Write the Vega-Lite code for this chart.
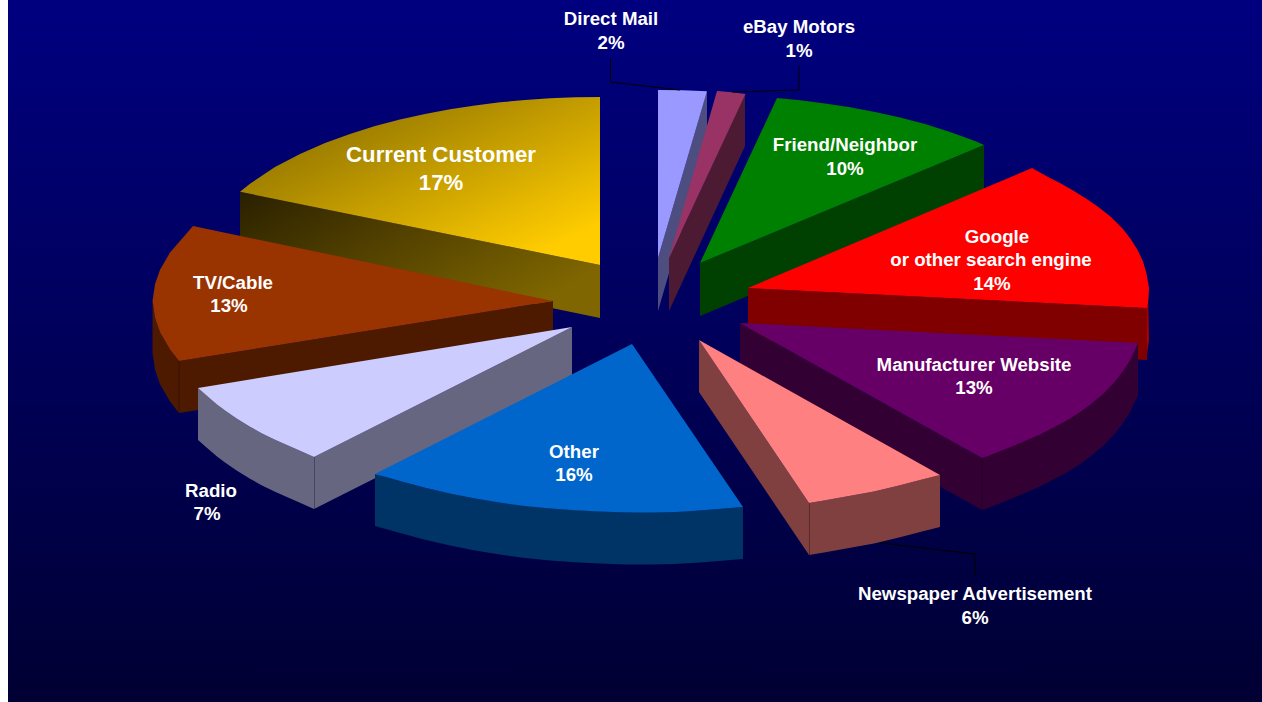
{"$schema":"https://vega.github.io/schema/vega-lite/v6.json","width":1262,"height":702,"padding":0,"autosize":{"type":"fit","contains":"padding"},"background":"white","view":{"stroke":null},
"datasets":{
"bg":[{"x":8,"x2":1262,"y":0,"y2":702}],
"gold":[
{"face":"top","seq":0,"x":600,"y":265},{"face":"top","seq":1,"x":600,"y":97},{"face":"top","seq":2,"x":575,"y":97.3},{"face":"top","seq":3,"x":550,"y":98.3},{"face":"top","seq":4,"x":525,"y":100},{"face":"top","seq":5,"x":500,"y":102.3},{"face":"top","seq":6,"x":475,"y":105.4},{"face":"top","seq":7,"x":450,"y":109.3},{"face":"top","seq":8,"x":425,"y":113.9},{"face":"top","seq":9,"x":400,"y":119.5},{"face":"top","seq":10,"x":375,"y":126.1},{"face":"top","seq":11,"x":350,"y":133.9},{"face":"top","seq":12,"x":325,"y":143},{"face":"top","seq":13,"x":300,"y":153.9},{"face":"top","seq":14,"x":275,"y":167.1},{"face":"top","seq":15,"x":250,"y":183.7},{"face":"top","seq":16,"x":240,"y":191.8},
{"face":"side","seq":0,"x":240,"y":192},{"face":"side","seq":1,"x":600,"y":265},{"face":"side","seq":2,"x":600,"y":318},{"face":"side","seq":3,"x":240,"y":244}],
"faces":[
{"face":"Direct Mail side","seq":0,"x":707,"y":91},{"face":"Direct Mail side","seq":1,"x":707,"y":143},{"face":"Direct Mail side","seq":2,"x":658,"y":311},{"face":"Direct Mail side","seq":3,"x":658,"y":258},
{"face":"Direct Mail top","seq":0,"x":658,"y":258},{"face":"Direct Mail top","seq":1,"x":658,"y":90},{"face":"Direct Mail top","seq":2,"x":683,"y":90.3},{"face":"Direct Mail top","seq":3,"x":707,"y":91.3},
{"face":"eBay side","seq":0,"x":745,"y":94},{"face":"eBay side","seq":1,"x":745,"y":146},{"face":"eBay side","seq":2,"x":669,"y":311},{"face":"eBay side","seq":3,"x":669,"y":258},
{"face":"eBay top","seq":0,"x":669,"y":258},{"face":"eBay top","seq":1,"x":717,"y":91},{"face":"eBay top","seq":2,"x":732,"y":92.3},{"face":"eBay top","seq":3,"x":745.5,"y":94},
{"face":"Friend side","seq":0,"x":700,"y":263},{"face":"Friend side","seq":1,"x":984,"y":145},{"face":"Friend side","seq":2,"x":984,"y":197},{"face":"Friend side","seq":3,"x":700,"y":316},
{"face":"Friend top","seq":0,"x":700,"y":263},{"face":"Friend top","seq":1,"x":777,"y":98},{"face":"Friend top","seq":2,"x":800,"y":100.3},{"face":"Friend top","seq":3,"x":825,"y":103.4},{"face":"Friend top","seq":4,"x":850,"y":107.3},{"face":"Friend top","seq":5,"x":875,"y":111.9},{"face":"Friend top","seq":6,"x":900,"y":117.5},{"face":"Friend top","seq":7,"x":925,"y":124.1},{"face":"Friend top","seq":8,"x":950,"y":131.9},{"face":"Friend top","seq":9,"x":975,"y":141},{"face":"Friend top","seq":10,"x":984,"y":145},
{"face":"Google outer","seq":0,"x":1146,"y":308},{"face":"Google outer","seq":1,"x":1148,"y":290},{"face":"Google outer","seq":2,"x":1149,"y":340},{"face":"Google outer","seq":3,"x":1146,"y":361},
{"face":"Google side","seq":0,"x":748,"y":288},{"face":"Google side","seq":1,"x":1147,"y":308},{"face":"Google side","seq":2,"x":1147,"y":360},{"face":"Google side","seq":3,"x":748,"y":340},
{"face":"Google top","seq":0,"x":748,"y":288},{"face":"Google top","seq":1,"x":1032,"y":168},{"face":"Google top","seq":2,"x":1048,"y":176.9},{"face":"Google top","seq":3,"x":1060,"y":183},{"face":"Google top","seq":4,"x":1073,"y":190.6},{"face":"Google top","seq":5,"x":1086,"y":198.5},{"face":"Google top","seq":6,"x":1098,"y":206.7},{"face":"Google top","seq":7,"x":1111,"y":217},{"face":"Google top","seq":8,"x":1123,"y":229},{"face":"Google top","seq":9,"x":1131,"y":239.6},{"face":"Google top","seq":10,"x":1138,"y":250.7},{"face":"Google top","seq":11,"x":1143,"y":261.5},{"face":"Google top","seq":12,"x":1146.5,"y":273.5},{"face":"Google top","seq":13,"x":1149,"y":288},{"face":"Google top","seq":14,"x":1148.5,"y":298},{"face":"Google top","seq":15,"x":1147,"y":308},
{"face":"TV side","seq":0,"x":179,"y":361},{"face":"TV side","seq":1,"x":553,"y":301},{"face":"TV side","seq":2,"x":553,"y":353},{"face":"TV side","seq":3,"x":179,"y":413},{"face":"TV side","seq":4,"x":170,"y":401.4},{"face":"TV side","seq":5,"x":160,"y":384.3},{"face":"TV side","seq":6,"x":155,"y":369.8},{"face":"TV side","seq":7,"x":152.5,"y":353},{"face":"TV side","seq":8,"x":152.5,"y":301},{"face":"TV side","seq":9,"x":155,"y":317.8},{"face":"TV side","seq":10,"x":160,"y":332.3},{"face":"TV side","seq":11,"x":170,"y":349.4},
{"face":"TV top","seq":0,"x":553,"y":301},{"face":"TV top","seq":1,"x":193,"y":226},{"face":"TV top","seq":2,"x":185,"y":235.2},{"face":"TV top","seq":3,"x":170,"y":252.6},{"face":"TV top","seq":4,"x":160,"y":269.7},{"face":"TV top","seq":5,"x":155,"y":284.2},{"face":"TV top","seq":6,"x":152.5,"y":301},{"face":"TV top","seq":7,"x":155,"y":317.8},{"face":"TV top","seq":8,"x":160,"y":332.3},{"face":"TV top","seq":9,"x":170,"y":349.4},{"face":"TV top","seq":10,"x":179,"y":361},
{"face":"Radio side","seq":0,"x":198,"y":388},{"face":"Radio side","seq":1,"x":210,"y":398.4},{"face":"Radio side","seq":2,"x":217,"y":404.4},{"face":"Radio side","seq":3,"x":225,"y":410.6},{"face":"Radio side","seq":4,"x":237,"y":418.8},{"face":"Radio side","seq":5,"x":250,"y":426.7},{"face":"Radio side","seq":6,"x":262,"y":433.4},{"face":"Radio side","seq":7,"x":275,"y":439.7},{"face":"Radio side","seq":8,"x":288,"y":445.6},{"face":"Radio side","seq":9,"x":300,"y":450.8},{"face":"Radio side","seq":10,"x":314,"y":457},{"face":"Radio side","seq":11,"x":572,"y":327},{"face":"Radio side","seq":12,"x":572,"y":379},{"face":"Radio side","seq":13,"x":314,"y":509},{"face":"Radio side","seq":14,"x":300,"y":502.8},{"face":"Radio side","seq":15,"x":288,"y":497.6},{"face":"Radio side","seq":16,"x":275,"y":491.7},{"face":"Radio side","seq":17,"x":262,"y":485.4},{"face":"Radio side","seq":18,"x":250,"y":478.7},{"face":"Radio side","seq":19,"x":237,"y":470.8},{"face":"Radio side","seq":20,"x":225,"y":462.6},{"face":"Radio side","seq":21,"x":217,"y":456.4},{"face":"Radio side","seq":22,"x":210,"y":450.4},{"face":"Radio side","seq":23,"x":198,"y":440},
{"face":"Radio top","seq":0,"x":572,"y":327},{"face":"Radio top","seq":1,"x":314,"y":457},{"face":"Radio top","seq":2,"x":300,"y":450.8},{"face":"Radio top","seq":3,"x":288,"y":445.6},{"face":"Radio top","seq":4,"x":275,"y":439.7},{"face":"Radio top","seq":5,"x":262,"y":433.4},{"face":"Radio top","seq":6,"x":250,"y":426.7},{"face":"Radio top","seq":7,"x":237,"y":418.8},{"face":"Radio top","seq":8,"x":225,"y":410.6},{"face":"Radio top","seq":9,"x":217,"y":404.4},{"face":"Radio top","seq":10,"x":210,"y":398.4},{"face":"Radio top","seq":11,"x":198,"y":388},
{"face":"Manufacturer side","seq":0,"x":740,"y":323},{"face":"Manufacturer side","seq":1,"x":982,"y":458},{"face":"Manufacturer side","seq":2,"x":1015,"y":445},{"face":"Manufacturer side","seq":3,"x":1065,"y":420.9},{"face":"Manufacturer side","seq":4,"x":1115,"y":381.5},{"face":"Manufacturer side","seq":5,"x":1138,"y":343},{"face":"Manufacturer side","seq":6,"x":1138,"y":395},{"face":"Manufacturer side","seq":7,"x":1130,"y":412.3},{"face":"Manufacturer side","seq":8,"x":1123,"y":423},{"face":"Manufacturer side","seq":9,"x":1115,"y":433.5},{"face":"Manufacturer side","seq":10,"x":1103,"y":446},{"face":"Manufacturer side","seq":11,"x":1090,"y":456.8},{"face":"Manufacturer side","seq":12,"x":1078,"y":465.5},{"face":"Manufacturer side","seq":13,"x":1065,"y":473.4},{"face":"Manufacturer side","seq":14,"x":1040,"y":486.4},{"face":"Manufacturer side","seq":15,"x":1015,"y":497.3},{"face":"Manufacturer side","seq":16,"x":990,"y":507.2},{"face":"Manufacturer side","seq":17,"x":982,"y":510},{"face":"Manufacturer side","seq":18,"x":740,"y":375},
{"face":"Manufacturer top","seq":0,"x":740,"y":323},{"face":"Manufacturer top","seq":1,"x":1138,"y":343},{"face":"Manufacturer top","seq":2,"x":1130,"y":360.3},{"face":"Manufacturer top","seq":3,"x":1123,"y":371},{"face":"Manufacturer top","seq":4,"x":1115,"y":381.5},{"face":"Manufacturer top","seq":5,"x":1103,"y":394},{"face":"Manufacturer top","seq":6,"x":1090,"y":404.8},{"face":"Manufacturer top","seq":7,"x":1078,"y":413.5},{"face":"Manufacturer top","seq":8,"x":1065,"y":421.4},{"face":"Manufacturer top","seq":9,"x":1040,"y":434.4},{"face":"Manufacturer top","seq":10,"x":1015,"y":445.3},{"face":"Manufacturer top","seq":11,"x":990,"y":455.2},{"face":"Manufacturer top","seq":12,"x":982,"y":458},
{"face":"Newspaper side","seq":0,"x":699,"y":340},{"face":"Newspaper side","seq":1,"x":809,"y":503},{"face":"Newspaper side","seq":2,"x":824,"y":500.5},{"face":"Newspaper side","seq":3,"x":849,"y":496},{"face":"Newspaper side","seq":4,"x":874,"y":491.5},{"face":"Newspaper side","seq":5,"x":899,"y":485.5},{"face":"Newspaper side","seq":6,"x":924,"y":479},{"face":"Newspaper side","seq":7,"x":940,"y":475},{"face":"Newspaper side","seq":8,"x":940,"y":527},{"face":"Newspaper side","seq":9,"x":924,"y":531},{"face":"Newspaper side","seq":10,"x":899,"y":537.5},{"face":"Newspaper side","seq":11,"x":874,"y":543.5},{"face":"Newspaper side","seq":12,"x":849,"y":548},{"face":"Newspaper side","seq":13,"x":824,"y":552.5},{"face":"Newspaper side","seq":14,"x":809,"y":555},{"face":"Newspaper side","seq":15,"x":699,"y":392},
{"face":"Newspaper top","seq":0,"x":699,"y":340},{"face":"Newspaper top","seq":1,"x":940,"y":475},{"face":"Newspaper top","seq":2,"x":924,"y":479},{"face":"Newspaper top","seq":3,"x":899,"y":485.5},{"face":"Newspaper top","seq":4,"x":874,"y":491.5},{"face":"Newspaper top","seq":5,"x":849,"y":496},{"face":"Newspaper top","seq":6,"x":824,"y":500.5},{"face":"Newspaper top","seq":7,"x":809,"y":503},
{"face":"Other side","seq":0,"x":375,"y":474},{"face":"Other side","seq":1,"x":425,"y":487.8},{"face":"Other side","seq":2,"x":475,"y":498.5},{"face":"Other side","seq":3,"x":550,"y":508.4},{"face":"Other side","seq":4,"x":625,"y":512.5},{"face":"Other side","seq":5,"x":700,"y":510.5},{"face":"Other side","seq":6,"x":743,"y":507},{"face":"Other side","seq":7,"x":743,"y":559},{"face":"Other side","seq":8,"x":725,"y":560.5},{"face":"Other side","seq":9,"x":700,"y":562.5},{"face":"Other side","seq":10,"x":675,"y":564},{"face":"Other side","seq":11,"x":650,"y":564.5},{"face":"Other side","seq":12,"x":625,"y":564.5},{"face":"Other side","seq":13,"x":600,"y":563.5},{"face":"Other side","seq":14,"x":575,"y":562.3},{"face":"Other side","seq":15,"x":550,"y":560.4},{"face":"Other side","seq":16,"x":525,"y":557.9},{"face":"Other side","seq":17,"x":500,"y":554.6},{"face":"Other side","seq":18,"x":475,"y":550.5},{"face":"Other side","seq":19,"x":450,"y":545.6},{"face":"Other side","seq":20,"x":425,"y":539.8},{"face":"Other side","seq":21,"x":400,"y":533},{"face":"Other side","seq":22,"x":375,"y":526},
{"face":"Other top","seq":0,"x":632,"y":344},{"face":"Other top","seq":1,"x":743,"y":507},{"face":"Other top","seq":2,"x":725,"y":508.5},{"face":"Other top","seq":3,"x":700,"y":510.5},{"face":"Other top","seq":4,"x":675,"y":512},{"face":"Other top","seq":5,"x":650,"y":512.5},{"face":"Other top","seq":6,"x":625,"y":512.5},{"face":"Other top","seq":7,"x":600,"y":511.5},{"face":"Other top","seq":8,"x":575,"y":510.3},{"face":"Other top","seq":9,"x":550,"y":508.4},{"face":"Other top","seq":10,"x":525,"y":505.9},{"face":"Other top","seq":11,"x":500,"y":502.6},{"face":"Other top","seq":12,"x":475,"y":498.5},{"face":"Other top","seq":13,"x":450,"y":493.6},{"face":"Other top","seq":14,"x":425,"y":487.8},{"face":"Other top","seq":15,"x":400,"y":481},{"face":"Other top","seq":16,"x":375,"y":474}
],
"edges":[
{"edge":"TV","seq":0,"x":179,"y":361},{"edge":"TV","seq":1,"x":179,"y":413},
{"edge":"Radio","seq":0,"x":314.5,"y":457},{"edge":"Radio","seq":1,"x":314.5,"y":509},
{"edge":"Manufacturer","seq":0,"x":982,"y":458},{"edge":"Manufacturer","seq":1,"x":982,"y":510},
{"edge":"Newspaper","seq":0,"x":809.5,"y":503},{"edge":"Newspaper","seq":1,"x":809.5,"y":555}],
"leaders":[
{"leader":"Direct Mail","seq":0,"x":610.5,"y":58},{"leader":"Direct Mail","seq":1,"x":610.5,"y":82},{"leader":"Direct Mail","seq":2,"x":680,"y":90},
{"leader":"eBay Motors","seq":0,"x":799,"y":66},{"leader":"eBay Motors","seq":1,"x":799,"y":90},{"leader":"eBay Motors","seq":2,"x":732,"y":92},
{"leader":"Newspaper","seq":0,"x":880,"y":543},{"leader":"Newspaper","seq":1,"x":975,"y":554},{"leader":"Newspaper","seq":2,"x":975,"y":576}],
"labels":[
{"text":"Direct Mail","x":611,"y":19},{"text":"2%","x":611,"y":43},
{"text":"eBay Motors","x":799,"y":27},{"text":"1%","x":799,"y":51},
{"text":"Friend/Neighbor","x":845,"y":145},{"text":"10%","x":845,"y":169},
{"text":"Google","x":997,"y":237},{"text":"or other search engine","x":991,"y":260},{"text":"14%","x":992,"y":284},
{"text":"Manufacturer Website","x":974,"y":365},{"text":"13%","x":974,"y":388},
{"text":"Newspaper Advertisement","x":975,"y":594},{"text":"6%","x":975,"y":618},
{"text":"Other","x":574,"y":452},{"text":"16%","x":574,"y":475},
{"text":"Radio","x":211,"y":491},{"text":"7%","x":207,"y":514},
{"text":"TV/Cable","x":233,"y":283},{"text":"13%","x":229,"y":306}],
"labelsBig":[{"text":"Current Customer","x":441,"y":155},{"text":"17%","x":441,"y":183}]
},
"encoding":{
"x":{"field":"x","type":"quantitative","axis":null,"scale":{"domain":[0,1262],"nice":false,"zero":false}},
"y":{"field":"y","type":"quantitative","axis":null,"scale":{"domain":[702,0],"nice":false,"zero":false}}
},
"layer":[
{"data":{"name":"bg"},"mark":{"type":"rect","fill":{"gradient":"linear","x1":0,"y1":0,"x2":0,"y2":1,"stops":[{"offset":0,"color":"#000080"},{"offset":1,"color":"#000033"}]}},"encoding":{"x2":{"field":"x2"},"y2":{"field":"y2"}}},
{"data":{"name":"gold"},"transform":[{"filter":"datum.face === 'side'"}],"mark":{"type":"line","filled":true,"strokeWidth":0,"fill":{"gradient":"linear","x1":0,"y1":0,"x2":1,"y2":0.6,"stops":[{"offset":0,"color":"#2a2000"},{"offset":1,"color":"#7f6600"}]}},"encoding":{"order":{"field":"seq"}}},
{"data":{"name":"gold"},"transform":[{"filter":"datum.face === 'top'"}],"mark":{"type":"line","filled":true,"strokeWidth":0,"fill":{"gradient":"linear","x1":0,"y1":0,"x2":1,"y2":1,"stops":[{"offset":0,"color":"#776000"},{"offset":0.88,"color":"#ffcc00"},{"offset":1,"color":"#ffcc00"}]}},"encoding":{"order":{"field":"seq"}}},
{"data":{"name":"faces"},"mark":{"type":"line","filled":true,"strokeWidth":0},"encoding":{"order":{"field":"seq"},"color":{"field":"face","type":"nominal","legend":null,"scale":{
"domain":["Direct Mail side","Direct Mail top","eBay side","eBay top","Friend side","Friend top","Google outer","Google side","Google top","TV side","TV top","Radio side","Radio top","Manufacturer side","Manufacturer top","Newspaper side","Newspaper top","Other side","Other top"],
"range":["#4d4d80","#9999ff","#4d1a33","#993366","#004000","#008000","#a80000","#800000","#ff0000","#4d1a00","#993300","#666680","#ccccff","#330033","#660066","#804040","#ff8080","#003366","#0066cc"]}}}},
{"data":{"name":"edges"},"mark":{"type":"line","stroke":"#000000","strokeOpacity":0.3,"strokeWidth":1},"encoding":{"detail":{"field":"edge"},"order":{"field":"seq"}}},
{"data":{"name":"leaders"},"mark":{"type":"line","stroke":"#000000","strokeWidth":1},"encoding":{"detail":{"field":"leader"},"order":{"field":"seq"}}},
{"data":{"name":"labels"},"mark":{"type":"text","font":"Liberation Sans","fontWeight":"bold","fontSize":18.7,"fill":"#ffffff","align":"center","baseline":"middle"},"encoding":{"text":{"field":"text"}}},
{"data":{"name":"labelsBig"},"mark":{"type":"text","font":"Liberation Sans","fontWeight":"bold","fontSize":22.2,"fill":"#ffffff","align":"center","baseline":"middle"},"encoding":{"text":{"field":"text"}}}
]}
